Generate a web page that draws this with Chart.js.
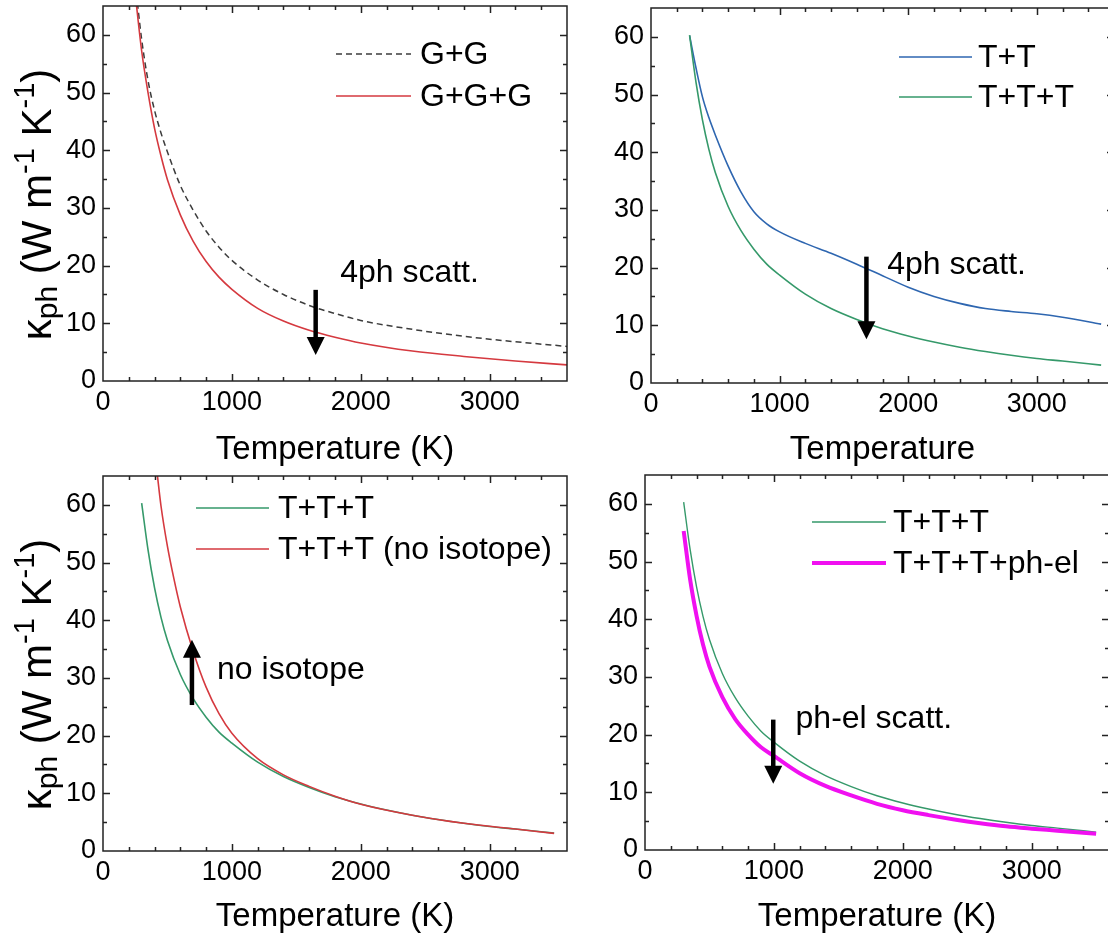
<!DOCTYPE html>
<html lang="en">
<head>
    <meta charset="UTF-8">
    <title>Phonon thermal conductivity vs temperature</title>
    <script src="https://cdn.jsdelivr.net/npm/chart.js"></script>
    <style>
        html, body { margin: 0; padding: 0; background: #fff; overflow: hidden; width: 1108px; height: 944px; }
        canvas { position: absolute; }
    </style>
</head>
<body>
    <canvas id="p1" width="580" height="472" style="left:0;top:0"></canvas>
    <canvas id="p2" width="570" height="472" style="left:560px;top:0"></canvas>
    <canvas id="p3" width="580" height="472" style="left:0;top:472px"></canvas>
    <canvas id="p4" width="570" height="472" style="left:560px;top:472px"></canvas>

    <script>
        // tick labels
        const xTickValues = [0, 1000, 2000, 3000];
        const yTickValues = [0, 10, 20, 30, 40, 50, 60];

        // temperature grids (K)
        const tempsG = [250, 300, 350, 400, 450, 500, 600, 700, 800, 900, 1000, 1200, 1400, 1600, 1800, 2000, 2400, 2800, 3200, 3600];
        const tempsT = [300, 350, 400, 450, 500, 600, 700, 800, 900, 1000, 1200, 1400, 1600, 1800, 2000, 2200, 2400, 2600, 2800, 3000, 3200, 3500];
        const tempsNoIso = [420, 450, 500, 550, 600, 700, 800, 900, 1000, 1200, 1400, 1600, 1800, 2000, 2400, 2800, 3200, 3500];

        // kappa_ph (W m-1 K-1)
        const kappaGG    = [69, 59.2, 52.0, 46.9, 43.0, 39.7, 33.9, 29.6, 26.0, 23.2, 20.9, 17.5, 15.0, 13.1, 11.7, 10.5, 8.95, 7.75, 6.8, 6.0];
        const kappaGGG   = [67.1, 57.2, 49.9, 43.8, 39.0, 34.9, 28.8, 24.2, 20.7, 18.0, 15.9, 12.6, 10.4, 8.8, 7.6, 6.6, 5.2, 4.26, 3.47, 2.8];
        const kappaTT    = [60.2, 54.6, 49.6, 46.0, 43.0, 37.6, 33.1, 29.7, 27.6, 26.2, 24.2, 22.5, 20.6, 18.6, 16.6, 15.0, 13.8, 12.9, 12.4, 12.0, 11.4, 10.2];
        const kappaTTT   = [60.3, 52.1, 45.6, 40.5, 36.5, 30.6, 26.4, 23.2, 20.6, 18.7, 15.4, 12.9, 11.0, 9.4, 8.15, 7.1, 6.2, 5.45, 4.8, 4.25, 3.8, 3.1];
        const kappaPhEl  = [55.3, 46.9, 40.6, 35.6, 31.8, 26.5, 22.7, 20.0, 17.8, 16.3, 13.3, 11.1, 9.45, 8.0, 6.9, 6.05, 5.3, 4.65, 4.1, 3.7, 3.35, 2.8];
        const kappaNoIso = [65.5, 59.8, 52.8, 47.2, 42.3, 34.6, 28.4, 23.8, 20.4, 16.0, 13.2, 11.2, 9.5, 8.1, 6.2, 4.8, 3.8, 3.05];

        // arrows and notes, one per panel (T in K, kappa values)
        const arrowT    = [1650, 1675, 690, 995];
        const arrowFrom = [15.8, 21.9, 25.3, 22.6];
        const arrowTo   = [4.5, 7.6, 36.6, 11.5];
        const noteText  = ['4ph scatt.', '4ph scatt.', 'no isotope', 'ph-el scatt.'];
        const noteT     = [1840, 1837, 885, 1168];
        const noteK     = [18.7, 20.4, 31.4, 22.6];

        const FONT = '"Liberation Sans", Arial, Helvetica, sans-serif';
        const RED = '#d5393f', GREEN = '#35996a', BLUE = '#2e66b0', MAGENTA = '#f010f0', GREY = '#3c3c3c';

        function pts(temps, vals) {
            return temps.map((t, i) => ({ x: t, y: vals[i] }));
        }

        function drawArrow(ctx, x, y0, y1) {
            const dir = Math.sign(y1 - y0);
            const head = 18, half = 9;
            ctx.fillStyle = '#000';
            ctx.strokeStyle = '#000';
            ctx.lineWidth = 4.5;
            ctx.beginPath();
            ctx.moveTo(x, y0);
            ctx.lineTo(x, y1 - dir * (head - 2));
            ctx.stroke();
            ctx.beginPath();
            ctx.moveTo(x - half, y1 - dir * head);
            ctx.lineTo(x + half, y1 - dir * head);
            ctx.lineTo(x, y1);
            ctx.closePath();
            ctx.fill();
        }

        // rotated y title with sub- and superscripts
        function drawYTitle(ctx, cx, cy) {
            const parts = [
                ['κ', 42, 0], ['ph', 30, 6], [' (W m', 42, 0], ['-1', 29, -17],
                [' K', 42, 0], ['-1', 29, -17], [')', 42, 0]
            ];
            let total = 0;
            parts.forEach(p => { ctx.font = p[1] + 'px ' + FONT; total += ctx.measureText(p[0]).width; });
            ctx.save();
            ctx.translate(cx, cy);
            ctx.rotate(-Math.PI / 2);
            ctx.fillStyle = '#000';
            ctx.textBaseline = 'alphabetic';
            ctx.textAlign = 'left';
            let pos = -total / 2;
            parts.forEach(p => {
                ctx.font = p[1] + 'px ' + FONT;
                ctx.fillText(p[0], pos, p[2]);
                pos += ctx.measureText(p[0]).width;
            });
            ctx.restore();
        }

        // frame with inward ticks, legend, arrow, note
        const decor = {
            id: 'decor',
            afterDraw(chart, args, opts) {
                const { ctx, chartArea: a, scales: { x, y } } = chart;
                ctx.save();
                ctx.strokeStyle = '#222';
                ctx.lineWidth = 1.5;
                ctx.strokeRect(a.left, a.top, a.right - a.left, a.bottom - a.top);
                ctx.beginPath();
                for (let v = 200; v < x.max; v += 200) {
                    const px = Math.round(x.getPixelForValue(v)) + 0.5;
                    const len = v % 1000 === 0 ? 7 : 4;
                    ctx.moveTo(px, a.bottom); ctx.lineTo(px, a.bottom - len);
                    ctx.moveTo(px, a.top); ctx.lineTo(px, a.top + len);
                }
                for (let v = 5; v < y.max; v += 5) {
                    const py = Math.round(y.getPixelForValue(v)) + 0.5;
                    const len = v % 10 === 0 ? 7 : 4;
                    ctx.moveTo(a.left, py); ctx.lineTo(a.left + len, py);
                    ctx.moveTo(a.right, py); ctx.lineTo(a.right - len, py);
                }
                ctx.stroke();

                // legend
                const lg = opts.legend;
                chart.data.datasets.forEach((ds, i) => {
                    const ly = a.top + lg.rows[i];
                    const lx = a.left + lg.dx;
                    ctx.strokeStyle = ds.borderColor;
                    ctx.lineWidth = ds.borderWidth;
                    ctx.setLineDash(ds.borderDash || []);
                    ctx.beginPath();
                    ctx.moveTo(lx, ly); ctx.lineTo(lx + lg.len, ly);
                    ctx.stroke();
                    ctx.setLineDash([]);
                    ctx.fillStyle = '#000';
                    ctx.font = '32px ' + FONT;
                    ctx.textBaseline = 'middle';
                    ctx.textAlign = 'left';
                    ctx.fillText(ds.label, lx + lg.len + lg.gap, ly + 1);
                });

                // arrow + note
                const k = opts.note;
                drawArrow(ctx, x.getPixelForValue(arrowT[k]), y.getPixelForValue(arrowFrom[k]), y.getPixelForValue(arrowTo[k]));
                ctx.fillStyle = '#000';
                ctx.font = '32px ' + FONT;
                ctx.textBaseline = 'middle';
                ctx.textAlign = 'left';
                ctx.fillText(noteText[k], x.getPixelForValue(noteT[k]), y.getPixelForValue(noteK[k]));

                if (opts.yTitle) drawYTitle(ctx, 51, (a.top + a.bottom) / 2 + 11);
                ctx.restore();
            }
        };

        function makePanel(id, datasets, lay, decorOpts) {
            return new Chart(document.getElementById(id), {
                type: 'line',
                data: { datasets: datasets },
                options: {
                    responsive: false,
                    animation: false,
                    events: [],
                    layout: { padding: { left: 0, top: lay.top, right: lay.right, bottom: 0 } },
                    elements: { point: { radius: 0 }, line: { cubicInterpolationMode: 'monotone' } },
                    plugins: { legend: { display: false }, tooltip: { enabled: false }, decor: decorOpts },
                    scales: {
                        x: {
                            type: 'linear', min: 0, max: 3600,
                            grid: { display: false, drawTicks: false },
                            border: { display: false },
                            afterBuildTicks(s) { s.ticks = xTickValues.map(v => ({ value: v })); },
                            ticks: { autoSkip: false, maxRotation: 0, padding: 5, callback: v => String(v),
                                     color: '#000', font: { family: FONT, size: 27 } },
                            title: { display: true, text: lay.xTitle, color: '#000',
                                     font: { family: FONT, size: 33 }, padding: { top: 0, bottom: lay.titlePad } },
                            afterFit(s) { s.height = lay.xAxisH; s.paddingLeft = 0; s.paddingRight = 0; }
                        },
                        y: {
                            min: 0, max: 65,
                            grid: { display: false, drawTicks: false },
                            border: { display: false },
                            afterBuildTicks(s) { s.ticks = yTickValues.map(v => ({ value: v })); },
                            ticks: { autoSkip: false, padding: 7, callback: v => String(v),
                                     color: '#000', font: { family: FONT, size: 27 } },
                            afterFit(s) { s.width = lay.yAxisW; s.paddingTop = 0; s.paddingBottom = 0; }
                        }
                    }
                },
                plugins: [decor]
            });
        }

        makePanel('p1', [
            { label: 'G+G', data: pts(tempsG, kappaGG), borderColor: GREY, borderWidth: 1.5, borderDash: [6, 4], order: 1 },
            { label: 'G+G+G', data: pts(tempsG, kappaGGG), borderColor: RED, borderWidth: 1.6, order: 0 }
        ], { top: 6, right: 13, yAxisW: 103, xAxisH: 91, xTitle: 'Temperature (K)', titlePad: 2 },
           { legend: { dx: 233, rows: [48, 90], len: 75, gap: 9 }, note: 0, yTitle: true });

        makePanel('p2', [
            { label: 'T+T', data: pts(tempsT, kappaTT), borderColor: BLUE, borderWidth: 1.6, order: 1 },
            { label: 'T+T+T', data: pts(tempsT, kappaTTT), borderColor: GREEN, borderWidth: 1.6, order: 0 }
        ], { top: 8, right: 16, yAxisW: 91, xAxisH: 89, xTitle: 'Temperature', titlePad: 2 },
           { legend: { dx: 248, rows: [49, 89], len: 73, gap: 6 }, note: 1, yTitle: false });

        makePanel('p3', [
            { label: 'T+T+T', data: pts(tempsT, kappaTTT), borderColor: GREEN, borderWidth: 1.6, order: 1 },
            { label: 'T+T+T (no isotope)', data: pts(tempsNoIso, kappaNoIso), borderColor: RED, borderWidth: 1.6, order: 0 }
        ], { top: 4, right: 13, yAxisW: 103, xAxisH: 93, xTitle: 'Temperature (K)', titlePad: 7 },
           { legend: { dx: 93, rows: [32, 73], len: 73, gap: 9 }, note: 2, yTitle: true });

        makePanel('p4', [
            { label: 'T+T+T', data: pts(tempsT, kappaTTT), borderColor: GREEN, borderWidth: 1.4, order: 1 },
            { label: 'T+T+T+ph-el', data: pts(tempsT, kappaPhEl), borderColor: MAGENTA, borderWidth: 4, order: 0 }
        ], { top: 3, right: 21, yAxisW: 85, xAxisH: 94, xTitle: 'Temperature (K)', titlePad: 7 },
           { legend: { dx: 167, rows: [47, 88], len: 74, gap: 7 }, note: 3, yTitle: false });
    </script>
</body>
</html>
